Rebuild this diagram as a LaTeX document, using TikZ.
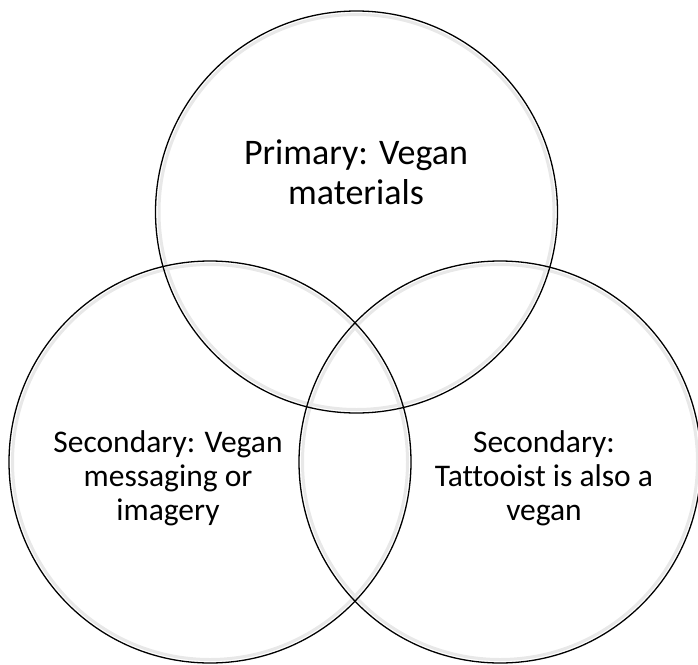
\documentclass[tikz,border=0pt]{standalone}
\usepackage{fontspec}
\setmainfont{Carlito}[Ligatures=CommonOff]
\begin{document}
\begin{tikzpicture}[x=1pt,y=-1pt,
  ring/.style={circle, draw=black, line width=1.3pt, minimum size=402pt, inner sep=0pt},
  glow/.style={circle, draw=black!9, line width=3pt, minimum size=395pt, inner sep=0pt},
  bigtext/.style={align=center, font=\fontsize{36}{40}\selectfont, inner sep=0pt},
  smalltext/.style={align=center, font=\fontsize{31.5}{34}\selectfont, inner sep=0pt}]
\useasboundingbox (0,0) rectangle (698,664);
% soft inner shading
\node[glow] (gt) at (356.5,212) {};
\node[glow] (gl) at (210,462) {};
\node[glow] (gr) at (500,462) {};
% circles
\node[ring] (top) at (356.5,212) {};
\node[ring] (left) at (210,462) {};
\node[ring] (right) at (500,462) {};
% labels
\node[bigtext] (t1) at (356,172) {Primary: Vegan\\materials};
\node[smalltext] (t2) at (168,478) {Secondary: Vegan\\messaging or\\imagery};
\node[smalltext] (t3) at (544,478) {Secondary:\\Tattooist is also a\\vegan};
\end{tikzpicture}
\end{document}
